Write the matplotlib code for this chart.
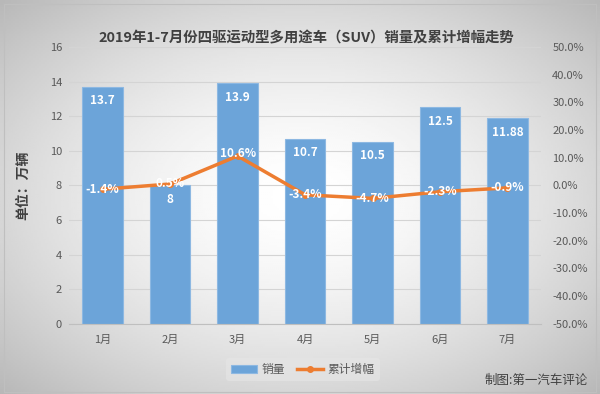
import numpy as np
import matplotlib
matplotlib.use('Agg')
import matplotlib.pyplot as plt

plt.rcParams['font.family'] = ['Noto Sans CJK SC', 'DejaVu Sans']

months = ['1月', '2月', '3月', '4月', '5月', '6月', '7月']
sales = [13.7, 8, 13.9, 10.7, 10.5, 12.5, 11.88]
sales_labels = ['13.7', '8', '13.9', '10.7', '10.5', '12.5', '11.88']
growth = [-1.4, 0.5, 10.6, -3.4, -4.7, -2.3, -0.9]

fig = plt.figure(figsize=(6, 3.94), dpi=100)

# radial grey background
bg = fig.add_axes([0, 0, 1, 1])
yy, xx = np.mgrid[-1:1:200j, -1:1:300j]
r = np.sqrt(xx**2 + yy**2) / np.sqrt(2)
bg.imshow(1 - 0.28 * r**1.6, cmap='gray', vmin=0, vmax=1, aspect='auto',
          extent=[0, 1, 0, 1])
bg.plot([0.006, 0.994, 0.994, 0.006, 0.006], [0.006, 0.006, 0.99, 0.99, 0.006],
        color='#bfbfbf', lw=0.8)
bg.set_xlim(0, 1)
bg.set_ylim(0, 1)
bg.axis('off')

ax = fig.add_axes([0.115, 0.178, 0.787, 0.703])
ax.patch.set_alpha(0)
x = np.arange(len(months))
ax.bar(x, sales, width=0.6, color='#6CA4D9', edgecolor='#8DB8E2', lw=0.8,
       zorder=2, label='销量')
for xi, v, s in zip(x, sales, sales_labels):
    ax.text(xi, v - 0.8, s, color='white', fontsize=8.5, fontweight='bold',
            ha='center', va='center', zorder=5)
ax.set_ylim(0, 16)
ax.set_yticks(range(0, 17, 2))
ax.set_xlim(-0.5, 6.5)
ax.set_xticks(x)
ax.set_xticklabels(months)
ax.grid(axis='y', color='#d4d4d4', lw=0.8, zorder=0)
ax.set_axisbelow(True)
for s in ['top', 'right', 'left']:
    ax.spines[s].set_visible(False)
ax.spines['bottom'].set_color('#bfbfbf')
ax.tick_params(axis='both', length=0, colors='#595959', labelsize=8, pad=5)
ax.tick_params(axis='x', pad=8)
ax.set_ylabel('单位：万辆', fontsize=10, fontweight='bold', color='#404040',
              labelpad=14)

ax2 = ax.twinx()
ax2.plot(x, growth, color='#ED7D31', lw=2.5, marker='o', ms=4, zorder=3,
         label='累计增幅')
offs = [0, 0, 0.8, 0, 0, 0, 0]
for xi, g, o in zip(x, growth, offs):
    ax2.text(xi, g + o, '%.1f%%' % g, color='white', fontsize=8.5,
             fontweight='bold', ha='center', va='center', zorder=6)
ax2.set_ylim(-50, 50)
ax2.set_yticks(range(-50, 51, 10))
ax2.set_yticklabels(['%.1f%%' % v for v in range(-50, 51, 10)])
for s in ['top', 'right', 'left', 'bottom']:
    ax2.spines[s].set_visible(False)
ax2.tick_params(axis='y', length=0, colors='#595959', labelsize=8, pad=8)

fig.text(0.51, 0.903, '2019年1-7月份四驱运动型多用途车（SUV）销量及累计增幅走势',
         ha='center', va='center', fontsize=10.4, fontweight='bold', color='#404040')

h1, l1 = ax.get_legend_handles_labels()
h2, l2 = ax2.get_legend_handles_labels()
leg = fig.legend(h1 + h2, l1 + l2, loc='center', bbox_to_anchor=(0.505, 0.062),
                 ncol=2, frameon=True, fontsize=8.5, handlelength=2.2,
                 columnspacing=1.0, borderpad=0.4, handletextpad=0.4)
leg.get_frame().set_facecolor('#e6e6e6')
leg.get_frame().set_edgecolor('none')
leg.get_frame().set_alpha(0.6)
for t in leg.get_texts():
    t.set_color('#595959')

fig.text(0.98, 0.035, '制图:第一汽车评论', ha='right', va='center',
         fontsize=9, color='#404040')

fig.savefig('out.png', dpi=100)
